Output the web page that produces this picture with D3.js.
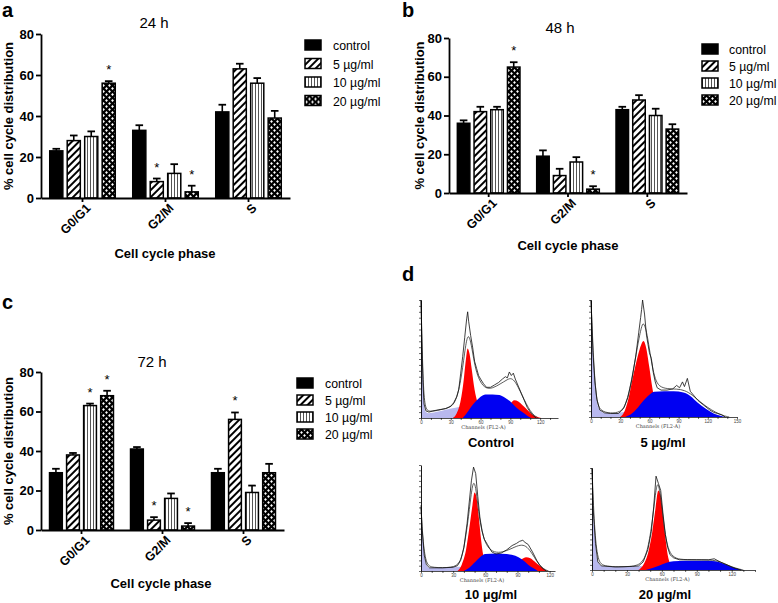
<!DOCTYPE html>
<html>
<head>
<meta charset="utf-8">
<script src="https://cdn.jsdelivr.net/npm/d3@7"></script>
<style>
  body { margin: 0; background: #fff; }
  svg { display: block; font-family: "Liberation Sans", Arial, sans-serif; }
</style>
</head>
<body>
<script>
/*
 * Cell cycle distribution after treatment: three bar panels (24/48/72 h)
 * and four DNA content histograms.
 */

const WIDTH = 778;
const HEIGHT = 603;

// ---- bar chart data ----
const phases = ['G0/G1', 'G2/M', 'S'];
const doses = ['control', '5 µg/ml', '10 µg/ml', '20 µg/ml'];
const yTicks = [0, 20, 40, 60, 80];

const mean24h = [[23, 28, 30, 56], [33, 8, 12, 3], [42, 63, 56, 39]];
const err24h = [[1, 2.5, 2.5, 1], [2.5, 1.5, 4.5, 3], [3.5, 2.5, 2.5, 3.5]];
const star24h = [[0, 0, 0, 1], [0, 1, 0, 1], [0, 0, 0, 0]];

const mean48h = [[36, 42, 43, 65], [19, 9, 16, 2], [43, 48, 40, 33]];
const err48h = [[1.5, 2.5, 1.5, 2.5], [3, 3.5, 2.5, 1.5], [1.5, 2.5, 3.5, 2.5]];
const star48h = [[0, 0, 0, 1], [0, 0, 0, 1], [0, 0, 0, 0]];

const mean72h = [[29, 38, 63, 68], [41, 5, 16, 2], [29, 56, 19, 29]];
const err72h = [[2, 1, 1, 2.5], [1, 1.5, 2.5, 1.5], [2, 3.5, 3.5, 4.5]];
const star72h = [[0, 0, 1, 1], [0, 1, 0, 1], [0, 1, 0, 0]];

// ---- histogram data: [channel, count] ----
const histTicks = [0, 30, 60, 90, 120, 150];

const ctrlDebris = [[0, 100], [1, 60], [2, 30], [3, 12], [5, 5], [8, 4], [15, 5], [25, 7], [36, 9], [44, 10], [50, 6], [55, 0]];
const ctrlG1 = [[32, 0], [36, 4], [40, 15], [43, 32], [45, 48], [47, 59], [49, 54], [51, 42], [54, 24], [57, 13], [60, 5], [64, 0]];
const ctrlS = [[42, 0], [46, 4], [50, 9], [55, 14], [60, 18], [65, 20], [72, 20], [79, 19.5], [85, 17], [90, 14], [96, 9], [102, 5], [107, 2], [111, 0]];
const ctrlG2 = [[80, 0], [85, 6], [90, 12], [94, 15], [98, 14], [102, 11], [107, 7], [112, 3], [117, 1], [121, 0]];
const ctrlFit = [[0, 100], [2, 30], [4, 8], [8, 5], [20, 7], [30, 9], [35, 14], [40, 30], [44, 56], [47, 72], [50, 66], [53, 50], [56, 38], [60, 30], [65, 25], [72, 25], [80, 29], [86, 32], [90, 34], [94, 32], [98, 26], [102, 19], [106, 12], [110, 6], [114, 2], [118, 0]];
const ctrlRaw = [[0, 100], [1, 60], [2, 30], [3, 12], [5, 6], [8, 5], [12, 6], [18, 7], [25, 8], [30, 10], [33, 13], [36, 18], [38, 24], [40, 38], [42, 52], [44, 68], [46, 84], [47, 90], [48, 82], [50, 70], [52, 60], [54, 48], [56, 42], [58, 36], [60, 33], [63, 29], [66, 26], [70, 26], [74, 28], [78, 30], [82, 33], [85, 35], [87, 34], [89, 39], [91, 36], [93, 38], [95, 33], [98, 27], [101, 21], [104, 15], [107, 9], [110, 5], [113, 2], [116, 0]];

const d5Debris = [[0, 100], [2, 55], [4, 30], [6, 14], [9, 6], [14, 3.5], [25, 3], [32, 4], [38, 5], [42, 0]];
const d5G1 = [[30, 0], [34, 4], [38, 14], [42, 30], [46, 45], [50, 58], [54, 65], [57, 58], [60, 42], [63, 25], [66, 12], [70, 3], [74, 0]];
const d5S = [[35, 0], [42, 3], [48, 8], [54, 14], [60, 19], [65, 21.5], [75, 22], [85, 22], [95, 21], [102, 18], [110, 12], [118, 7], [126, 3], [133, 1], [138, 0]];
const d5Fit = [[0, 100], [3, 40], [6, 12], [10, 5], [20, 3], [30, 4], [36, 10], [42, 32], [48, 62], [52, 78], [54, 81], [57, 74], [60, 58], [63, 43], [66, 32], [70, 26], [78, 24], [88, 24], [96, 23], [104, 19], [112, 13], [120, 8], [128, 4], [136, 1], [142, 0]];
const d5Raw = [[0, 100], [2, 55], [4, 30], [6, 15], [9, 6], [14, 3.5], [20, 3], [28, 3], [31, 5], [34, 8], [38, 17], [42, 32], [46, 52], [49, 72], [51, 85], [52, 92], [53, 100], [55, 88], [57, 70], [60, 55], [62, 50], [64, 38], [66, 30], [68, 25], [72, 23], [78, 23], [84, 24], [88, 27], [91, 25], [94, 30], [96, 26], [99, 33], [102, 22], [110, 14], [116, 10], [122, 6], [126, 4], [130, 3], [134, 2], [138, 0]];

const d10Debris = [[0, 60], [1, 40], [3, 15], [5, 6], [8, 3], [20, 3], [30, 3.5], [36, 4], [40, 0]];
const d10G1 = [[34, 0], [38, 6], [42, 20], [45, 40], [48, 62], [50, 74], [52, 68], [54, 50], [56, 30], [58, 15], [61, 5], [64, 0]];
const d10S = [[40, 0], [45, 3], [50, 8], [55, 13], [60, 16], [70, 16.5], [80, 16], [88, 14.5], [94, 11], [100, 6], [105, 2.5], [109, 0]];
const d10G2 = [[82, 0], [88, 5], [94, 11], [98, 13], [102, 12], [107, 8], [112, 4], [116, 1], [119, 0]];
const d10Fit = [[0, 60], [2, 25], [5, 6], [10, 3], [30, 3], [36, 7], [40, 20], [44, 48], [47, 75], [49, 85], [51, 80], [53, 62], [56, 40], [60, 26], [65, 19], [72, 17], [80, 19], [88, 23], [94, 25], [99, 23], [104, 16], [108, 9], [112, 4], [116, 1], [119, 0]];
const d10Raw = [[0, 62], [1, 40], [3, 15], [5, 6], [8, 3], [20, 3], [30, 3.5], [34, 5], [37, 10], [40, 22], [43, 45], [45, 65], [47, 85], [49, 98], [51, 92], [53, 70], [55, 50], [57, 38], [59, 30], [62, 25], [66, 18], [70, 16], [75, 17], [80, 20], [85, 24], [89, 26], [92, 28], [95, 29], [97, 27], [100, 25], [104, 18], [108, 10], [111, 5], [114, 2], [117, 0]];

const d20Debris = [[0, 100], [1, 60], [3, 26], [5, 8], [8, 4], [20, 3], [35, 3.5], [42, 4], [46, 0]];
const d20G1 = [[40, 0], [44, 5], [48, 16], [51, 32], [54, 56], [57, 78], [59, 72], [61, 52], [63, 32], [65, 15], [67, 6], [70, 0]];
const d20S = [[46, 0], [52, 2], [58, 4.5], [64, 7], [70, 8.5], [80, 9], [90, 9], [100, 9], [106, 8.5], [112, 6.5], [118, 4], [124, 1.5], [129, 0]];
const d20Fit = [[0, 100], [2, 40], [5, 8], [10, 3], [35, 3], [42, 6], [47, 15], [51, 40], [54, 70], [56, 87], [58, 80], [60, 62], [62, 42], [64, 27], [67, 16], [72, 11], [80, 10], [100, 10], [108, 9], [114, 6], [120, 3], [126, 1], [130, 0]];
const d20Raw = [[0, 100], [1, 60], [3, 26], [5, 8], [8, 4], [20, 3], [35, 3.5], [40, 4], [44, 8], [48, 20], [51, 38], [53, 62], [55, 92], [57, 85], [59, 78], [61, 55], [63, 35], [65, 22], [67, 15], [70, 12], [75, 10], [80, 10], [90, 10], [100, 10], [105, 11], [110, 8], [116, 5], [122, 2], [128, 0]];

// ---- layout ----
const BAR_PANELS = [
  { letter: 'a', lx: 2, ly: 17, title: '24 h', tx: 154, ty: 28, x0: 41, x1: 290, yTop: 34, yBot: 198,
    ylabX: 13, xlabX: 165, xlabY: 258, legX: 305, legY: 45, legStep: 18.5, legTextX: 28,
    mean: mean24h, err: err24h, star: star24h },
  { letter: 'b', lx: 402, ly: 17, title: '48 h', tx: 560, ty: 33, x0: 449, x1: 687, yTop: 38, yBot: 193,
    ylabX: 424, xlabX: 568, xlabY: 250, legX: 702, legY: 49, legStep: 17, legTextX: 27,
    mean: mean48h, err: err48h, star: star48h },
  { letter: 'c', lx: 2, ly: 309, title: '72 h', tx: 152, ty: 367, x0: 41, x1: 284, yTop: 372, yBot: 530,
    ylabX: 13, xlabX: 161, xlabY: 588, legX: 297, legY: 383, legStep: 17, legTextX: 28,
    mean: mean72h, err: err72h, star: star72h }
];

const HIST_PANELS = [
  { x0: 421, x1: 558, chMax: 138, yTop: 300, yBot: 418, label: 'Control', labX: 491, labY: 447,
    debris: ctrlDebris, g1: ctrlG1, g2: ctrlG2, s: ctrlS, fit: ctrlFit, raw: ctrlRaw },
  { x0: 591, x1: 737, chMax: 150, yTop: 300, yBot: 417, label: '5 µg/ml', labX: 663, labY: 447,
    debris: d5Debris, g1: d5G1, g2: null, s: d5S, fit: d5Fit, raw: d5Raw },
  { x0: 421, x1: 555, chMax: 125, yTop: 465, yBot: 571, label: '10 µg/ml', labX: 491, labY: 599,
    debris: d10Debris, g1: d10G1, g2: d10G2, s: d10S, fit: d10Fit, raw: d10Raw },
  { x0: 592, x1: 755, chMax: 140, yTop: 468, yBot: 570, label: '20 µg/ml', labX: 665, labY: 599,
    debris: d20Debris, g1: d20G1, g2: null, s: d20S, fit: d20Fit, raw: d20Raw }
];

const svg = d3.select('body')
  .append('svg')
    .attr('width', WIDTH)
    .attr('height', HEIGHT);

/*
 * Fill patterns for the dose groups.
 */

const defs = svg.append('defs');

const diag = defs.append('pattern')
    .attr('id', 'pat-diag')
    .attr('patternUnits', 'userSpaceOnUse')
    .attr('width', 5)
    .attr('height', 5)
    .attr('patternTransform', 'rotate(45)');
diag.append('rect').attr('width', 5).attr('height', 5).attr('fill', '#fff');
diag.append('rect').attr('width', 2).attr('height', 5).attr('fill', '#000');

const vert = defs.append('pattern')
    .attr('id', 'pat-vert')
    .attr('patternUnits', 'userSpaceOnUse')
    .attr('width', 3)
    .attr('height', 3);
vert.append('rect').attr('width', 3).attr('height', 3).attr('fill', '#fff');
vert.append('rect').attr('width', 1).attr('height', 3).attr('fill', '#555');

const dots = defs.append('pattern')
    .attr('id', 'pat-dots')
    .attr('patternUnits', 'userSpaceOnUse')
    .attr('width', 6)
    .attr('height', 6);
dots.append('rect').attr('width', 6).attr('height', 6).attr('fill', '#000');
dots.append('path').attr('d', 'M1.5,0.1L2.9,1.5L1.5,2.9L0.1,1.5Z M4.5,3.1L5.9,4.5L4.5,5.9L3.1,4.5Z').attr('fill', '#fff');

const FILLS = ['#000', 'url(#pat-diag)', 'url(#pat-vert)', 'url(#pat-dots)'];

/*
 * Draws one grouped bar panel with error bars and legend.
 */

const drawBarPanel = p => {
  const g = svg.append('g');

  const xScale = d3.scaleBand()
      .domain(phases)
      .range([p.x0, p.x1]);

  const inner = d3.scaleBand()
      .domain(doses)
      .range([0, xScale.bandwidth()])
      .paddingInner(0.25)
      .paddingOuter(0.5);

  const yScale = d3.scaleLinear()
      .domain([0, 80])
      .range([p.yBot, p.yTop]);

  // bars
  const rows = phases.flatMap((ph, i) => doses.map((ds, j) => ({
    phase: ph, dose: ds, j: j, v: p.mean[i][j], e: p.err[i][j], star: p.star[i][j]
  })));

  const cx = d => xScale(d.phase) + inner(d.dose) + inner.bandwidth() / 2;

  const cell = g.selectAll('.bar')
    .data(rows)
    .enter()
    .append('g')
      .attr('class', 'bar');

  cell.append('line')
      .attr('x1', cx)
      .attr('x2', cx)
      .attr('y1', d => yScale(d.v))
      .attr('y2', d => yScale(d.v + d.e))
      .attr('stroke', '#000')
      .attr('stroke-width', 1.6);

  cell.append('line')
      .attr('x1', d => cx(d) - 3.8)
      .attr('x2', d => cx(d) + 3.8)
      .attr('y1', d => yScale(d.v + d.e))
      .attr('y2', d => yScale(d.v + d.e))
      .attr('stroke', '#000')
      .attr('stroke-width', 1.8);

  cell.append('rect')
      .attr('x', d => xScale(d.phase) + inner(d.dose))
      .attr('y', d => yScale(d.v))
      .attr('width', inner.bandwidth())
      .attr('height', d => yScale(0) - yScale(d.v))
      .attr('fill', d => FILLS[d.j])
      .attr('stroke', '#000')
      .attr('stroke-width', 1.5);

  cell.filter(d => d.star)
    .append('text')
      .attr('x', cx)
      .attr('y', d => yScale(d.v + d.e) - 7)
      .attr('text-anchor', 'middle')
      .attr('font-size', 13)
      .text('*');

  // axes
  const yAxis = d3.axisLeft(yScale)
      .tickValues(yTicks)
      .tickSize(5)
      .tickPadding(2)
      .tickSizeOuter(0);

  g.append('g')
      .attr('transform', `translate(${p.x0}, 0)`)
      .call(yAxis)
      .call(a => a.select('.domain').attr('stroke-width', 1.8))
      .call(a => a.selectAll('.tick line').attr('stroke-width', 1.8))
      .call(a => a.selectAll('text')
        .attr('font-size', 13)
        .attr('font-weight', 'bold')
        .attr('font-family', '"Liberation Sans", Arial, sans-serif'));

  const xAxis = d3.axisBottom(xScale)
      .tickSize(4)
      .tickSizeOuter(0);

  g.append('g')
      .attr('transform', `translate(0, ${p.yBot})`)
      .call(xAxis)
      .call(a => a.select('.domain').attr('stroke-width', 1.8))
      .call(a => a.selectAll('.tick line').attr('stroke-width', 1.8))
      .call(a => a.selectAll('text')
        .attr('font-size', 12.5)
        .attr('font-weight', 'bold')
        .attr('font-family', '"Liberation Sans", Arial, sans-serif')
        .attr('text-anchor', 'end')
        .attr('dy', 0)
        .attr('transform', 'translate(4, 6) rotate(-45)'));

  // titles
  g.append('text')
      .attr('x', p.lx)
      .attr('y', p.ly)
      .attr('font-size', 20)
      .attr('font-weight', 'bold')
      .text(p.letter);

  g.append('text')
      .attr('x', p.tx)
      .attr('y', p.ty)
      .attr('text-anchor', 'middle')
      .attr('font-size', 15)
      .text(p.title);

  g.append('text')
      .attr('transform', `translate(${p.ylabX}, ${(p.yTop + p.yBot) / 2}) rotate(-90)`)
      .attr('text-anchor', 'middle')
      .attr('font-size', 13)
      .attr('font-weight', 'bold')
      .text('% cell cycle distribution');

  g.append('text')
      .attr('x', p.xlabX)
      .attr('y', p.xlabY)
      .attr('text-anchor', 'middle')
      .attr('font-size', 13)
      .attr('font-weight', 'bold')
      .text('Cell cycle phase');

  // legend
  const leg = g.selectAll('.leg')
    .data(doses)
    .enter()
    .append('g')
      .attr('class', 'leg')
      .attr('transform', (d, i) => `translate(${p.legX}, ${p.legY + i * p.legStep})`);

  leg.append('rect')
      .attr('x', 0)
      .attr('y', -5)
      .attr('width', 16)
      .attr('height', 10)
      .attr('fill', (d, i) => FILLS[i])
      .attr('stroke', '#000')
      .attr('stroke-width', 1.5);

  leg.append('text')
      .attr('x', p.legTextX)
      .attr('y', 5)
      .attr('font-size', 12.3)
      .text(d => d);
};

/*
 * Draws one DNA histogram.
 */

const drawHistPanel = p => {
  const g = svg.append('g');

  const x = d3.scaleLinear().domain([0, p.chMax]).range([p.x0, p.x1]);
  const y = d3.scaleLinear().domain([0, 100]).range([p.yBot, p.yTop]);

  const area = d3.area()
      .x(d => x(d[0]))
      .y0(p.yBot)
      .y1(d => y(d[1]))
      .curve(d3.curveMonotoneX);

  const line = d3.line()
      .x(d => x(d[0]))
      .y(d => y(d[1]));

  g.append('path').attr('d', area(p.debris)).attr('fill', '#b8b8ee');
  g.append('path').attr('d', area(p.g1)).attr('fill', '#ff0000');
  if (p.g2) g.append('path').attr('d', area(p.g2)).attr('fill', '#ff0000');
  g.append('path').attr('d', area(p.s)).attr('fill', '#0000f2');

  g.append('path')
      .attr('d', line.curve(d3.curveBasis)(p.fit))
      .attr('fill', 'none')
      .attr('stroke', '#333')
      .attr('stroke-width', 0.8);

  g.append('path')
      .attr('d', line.curve(d3.curveLinear)(p.raw))
      .attr('fill', 'none')
      .attr('stroke', '#111')
      .attr('stroke-width', 0.8);

  // axes with fine ticks
  const xAxis = d3.axisBottom(x)
      .tickValues(d3.range(0, p.chMax + 1, 10))
      .tickSize(2)
      .tickPadding(1)
      .tickSizeOuter(0)
      .tickFormat(v => histTicks.includes(v) ? v : '');

  g.append('g')
      .attr('transform', `translate(0, ${p.yBot})`)
      .call(xAxis)
      .call(a => a.select('.domain').attr('stroke-width', 0.7))
      .call(a => a.selectAll('.tick line').attr('stroke-width', 0.6))
      .call(a => a.selectAll('text').attr('font-size', 4.5).attr('fill', '#444'));

  const yAxis = d3.axisLeft(y)
      .tickValues(d3.range(0, 101, 5))
      .tickSize(2)
      .tickSizeOuter(0)
      .tickFormat('');

  g.append('g')
      .attr('transform', `translate(${p.x0}, 0)`)
      .call(yAxis)
      .call(a => a.select('.domain').attr('stroke-width', 0.9))
      .call(a => a.selectAll('.tick line').attr('stroke-width', 0.6));

  g.append('text')
      .attr('x', (p.x0 + p.x1) / 2 - 6)
      .attr('y', p.yBot + 11)
      .attr('text-anchor', 'middle')
      .attr('font-size', 5)
      .attr('font-family', '"DejaVu Serif", serif')
      .attr('fill', '#444')
      .text('Channels (FL2-A)');

  g.append('text')
      .attr('x', p.labX)
      .attr('y', p.labY)
      .attr('text-anchor', 'middle')
      .attr('font-size', 13)
      .attr('font-weight', 'bold')
      .text(p.label);
};

BAR_PANELS.forEach(drawBarPanel);
HIST_PANELS.forEach(drawHistPanel);

svg.append('text')
    .attr('x', 402)
    .attr('y', 281)
    .attr('font-size', 20)
    .attr('font-weight', 'bold')
    .text('d');
</script>
</body>
</html>
